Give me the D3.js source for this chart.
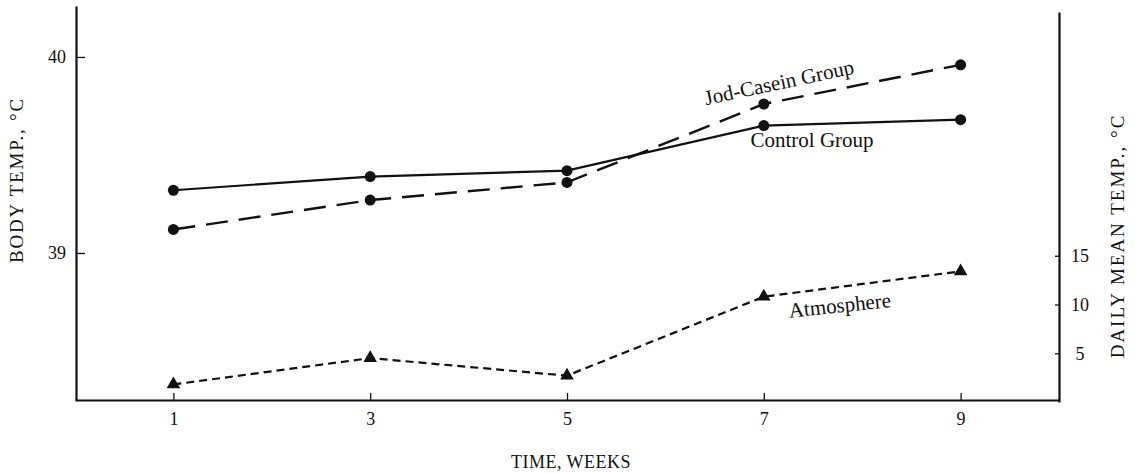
<!DOCTYPE html>
<html>
<head>
<meta charset="utf-8">
<script src="https://cdn.jsdelivr.net/npm/d3@7"></script>
<style>
  body { margin: 0; background: #fff; }
  svg { display: block; }
  text { font-family: "Liberation Serif", "DejaVu Serif", serif; fill: #111; }
</style>
</head>
<body>
<svg id="chart" width="1140" height="473"></svg>
<script>
// --- data ---
const weeks = [1, 3, 5, 7, 9];
const controlGroup = [39.32, 39.39, 39.42, 39.65, 39.68];
const jodCaseinGroup = [39.12, 39.27, 39.36, 39.76, 39.96];
const atmosphere = [1.8, 4.5, 2.7, 10.8, 13.4];

const xTicks = [1, 3, 5, 7, 9];
const leftTicks = [39, 40];
const rightTicks = [5, 10, 15];

const svg = d3.select("#chart");

// --- scales ---
const x = d3.scaleLinear().domain([0, 10]).range([75, 1059]);
const yBody = d3.scaleLinear().domain([38.25, 40.26]).range([400, 6]);
const yAir = d3.scaleLinear().domain([0, 40]).range([402, 12]);

const ink = "#111";

// --- axes ---
const xAxis = svg.append("g")
    .attr("transform", `translate(0,${yBody(38.25)})`)
    .call(d3.axisBottom(x).tickValues(xTicks).tickFormat(d3.format("d"))
        .tickSize(-7).tickSizeOuter(0).tickPadding(12));

const leftAxis = svg.append("g")
    .attr("transform", `translate(${x(0) + 1},0)`)
    .call(d3.axisLeft(yBody).tickValues(leftTicks).tickFormat(d3.format("d"))
        .tickSize(-9).tickSizeOuter(0).tickPadding(10));

const rightAxis = svg.append("g")
    .attr("transform", `translate(${x(10)},0)`)
    .call(d3.axisRight(yAir).tickValues(rightTicks).tickFormat(d3.format("d"))
        .tickSize(-4).tickSizeOuter(0).tickPadding(12));

[xAxis, leftAxis, rightAxis].forEach(g => {
    g.select(".domain").attr("stroke", ink).attr("stroke-width", 2.2);
    g.selectAll(".tick line").attr("stroke", ink).attr("stroke-width", 1.3);
    g.selectAll(".tick text")
        .style("font-family", '"Liberation Serif", serif')
        .style("font-size", "18px")
        .attr("fill", ink);
});
rightAxis.selectAll(".tick text").attr("text-anchor", "middle").attr("dx", 9);

// axis titles
svg.append("text")
    .attr("x", 571).attr("y", 468)
    .attr("text-anchor", "middle")
    .style("font-size", "18px")
    .style("letter-spacing", "0.5px")
    .text("TIME, WEEKS");

svg.append("text")
    .attr("transform", "translate(23,180) rotate(-90)")
    .attr("text-anchor", "middle")
    .style("font-size", "19px")
    .style("letter-spacing", "1.8px")
    .text("BODY TEMP., \u00B0C");

svg.append("text")
    .attr("transform", "translate(1124,236) rotate(-90)")
    .attr("text-anchor", "middle")
    .style("font-size", "19px")
    .style("letter-spacing", "2px")
    .text("DAILY MEAN TEMP., \u00B0C");

// --- series ---
const series = [
    { values: controlGroup, y: yBody, dash: null, width: 2.2, marker: "circle" },
    { values: jodCaseinGroup, y: yBody, dash: "22,11", width: 2.4, marker: "circle" },
    { values: atmosphere, y: yAir, dash: "8,5", width: 2.2, marker: "triangle" }
];

series.forEach(s => {
    const pts = weeks.map((w, i) => [w, s.values[i]]);
    const line = d3.line().x(d => x(d[0])).y(d => s.y(d[1]));
    svg.append("path")
        .datum(pts)
        .attr("d", line)
        .attr("fill", "none")
        .attr("stroke", ink)
        .attr("stroke-width", s.width)
        .attr("stroke-dasharray", s.dash);

    const sym = d3.symbol()
        .type(s.marker === "circle" ? d3.symbolCircle : d3.symbolTriangle)
        .size(s.marker === "circle" ? 95 : 80);
    svg.append("g").selectAll("path")
        .data(pts)
        .join("path")
        .attr("d", sym)
        .attr("transform", d => `translate(${x(d[0])},${s.y(d[1])})`)
        .attr("fill", ink);
});

// --- series labels ---
svg.append("text")
    .attr("transform", `translate(${x(7.17)},${yBody(39.835)}) rotate(-12)`)
    .attr("text-anchor", "middle")
    .style("font-size", "21px")
    .text("Jod-Casein Group");

svg.append("text")
    .attr("x", x(7.49)).attr("y", yBody(39.54))
    .attr("text-anchor", "middle")
    .style("font-size", "21px")
    .text("Control Group");

svg.append("text")
    .attr("transform", `translate(${x(7.78)},${yAir(9.2)}) rotate(-6)`)
    .attr("text-anchor", "middle")
    .style("font-size", "21px")
    .text("Atmosphere");
</script>
</body>
</html>
